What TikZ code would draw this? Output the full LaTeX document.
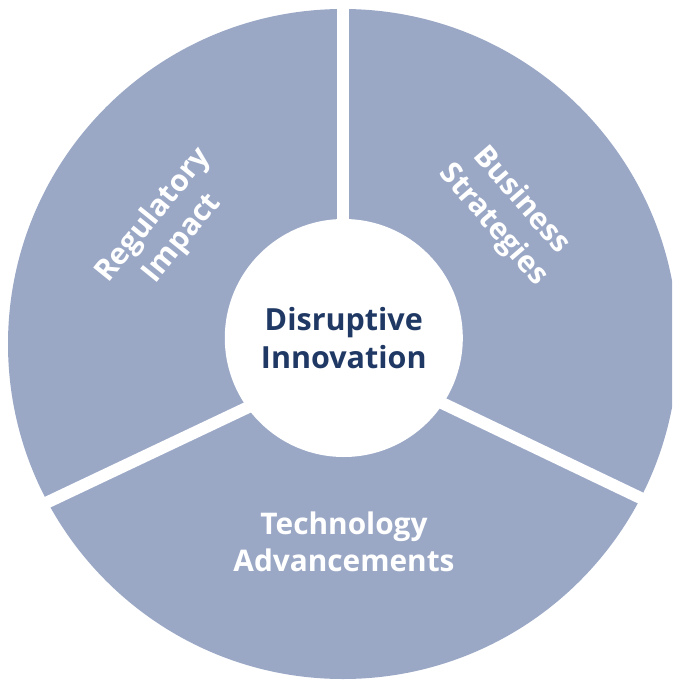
\documentclass[tikz,border=0pt]{standalone}
\usepackage{fontspec}
\setmainfont{Open Sans}
\definecolor{sectorfill}{RGB}{154,168,198}
\definecolor{darktext}{RGB}{31,56,100}
\begin{document}
\begin{tikzpicture}[x=1pt,y=-1pt,
  gapline/.style={line width=12pt,white},
  sectorlabel/.style={align=center,text=white,font=\fontsize{29.8}{37}\selectfont\bfseries},
  hub/.style={circle,fill=white,minimum size=238pt,inner sep=0pt,align=center,text=darktext,font=\fontsize{30.5}{37.5}\selectfont\bfseries}]
\useasboundingbox (0,0) rectangle (672,680);
\clip (0,0) rectangle (672,680);
% pie
\fill[sectorfill] (343,344) circle[radius=335];
% gaps
\coordinate (gt1) at (343,-10);
\coordinate (gt2) at (343,338);
\coordinate (gl1) at (300.7,382.3);
\coordinate (gl2) at (20.5,515);
\coordinate (gr1) at (389.9,378.1);
\coordinate (gr2) at (678.6,516.2);
\draw[gapline] (gt1) -- (gt2);
\draw[gapline] (gl1) -- (gl2);
\draw[gapline] (gr1) -- (gr2);
% hub
\node[hub] (hub) at (343.8,338) {Disruptive\\Innovation};
% labels
\node[sectorlabel,rotate=-49] (bus) at (507,213) {Business\\Strategies};
\node[sectorlabel,rotate=51] (reg) at (168,227) {Regulatory\\Impact};
\node[sectorlabel] (tech) at (344,542) {Technology\\Advancements};
\end{tikzpicture}
\end{document}
